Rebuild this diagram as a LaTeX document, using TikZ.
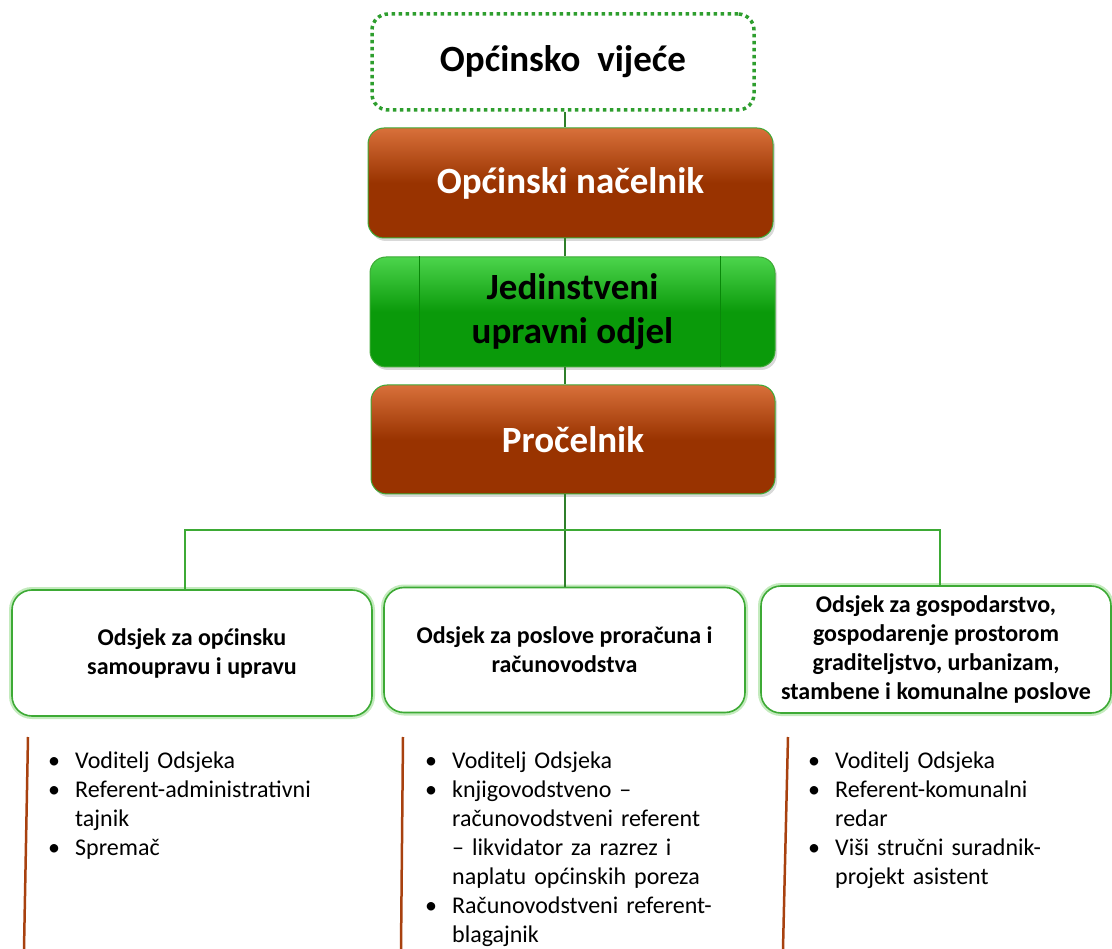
\documentclass[tikz,border=0pt]{standalone}
\usepackage{fontspec}
\setmainfont{Carlito}
\usetikzlibrary{positioning,shadows}
\definecolor{smeda}{HTML}{993300}
\definecolor{smedasvijetla}{HTML}{D8703A}
\definecolor{zelena}{HTML}{0A9A0A}
\definecolor{zelenasvijetla}{HTML}{4CD44C}
\definecolor{rub}{HTML}{3DAA35}
\definecolor{sjaj}{HTML}{C4EBBE}
\definecolor{deblo}{HTML}{2F7F2A}
\definecolor{tocke}{HTML}{2E9E2E}
\definecolor{linija}{HTML}{A8410F}
\newcommand{\stavka}[1]{\noindent\makebox[27pt][l]{\textbullet}#1\par}
\newcommand{\nastavak}[1]{\noindent\hspace*{27pt}#1\par}

\begin{document}
\begin{tikzpicture}[x=1pt,y=-1pt,
  vrh/.style={rounded corners=16pt,minimum width=405pt,minimum height=110pt,draw=rub,line width=1pt,
    font=\fontsize{37}{44}\selectfont\bfseries,align=center,
    drop shadow={opacity=.3,shadow xshift=2pt,shadow yshift=-3pt}},
  smedi/.style={vrh,top color=smedasvijetla,bottom color=smeda,middle color=smeda,text=white},
  zeleni/.style={vrh,top color=zelenasvijetla,bottom color=zelena,middle color=zelena,text=black},
  odsjek/.style={draw=rub,line width=1.6pt,rounded corners=20pt,fill=white,preaction={draw=sjaj,line width=6pt},
    font=\fontsize{24}{29}\selectfont\bfseries,align=center},
  popis/.style={text width=330pt,inner sep=0pt,anchor=base west,font=\fontsize{24}{29}\selectfont},
  deblo/.style={draw=deblo,line width=1.6pt},
  grana/.style={draw=rub,line width=1.1pt},
  crta/.style={draw=linija,line width=2.5pt}]
  \useasboundingbox (0,0) rectangle (1112,949);
  \node[draw=tocke,line width=3.5pt,dash pattern=on 3.5pt off 3.5pt,rounded corners=16pt,minimum width=382pt,minimum height=96pt,font=\fontsize{37}{44}\selectfont\bfseries] (vijece) at (563,62) {Općinsko\ \ vijeće};
  \node[smedi] (nacelnik) at (570.5,183) {Općinski načelnik};
  \node[zeleni] (jedinstveni) at (572.5,312) {Jedinstveni\\upravni odjel};
  \draw[zelena!88!black,line width=.4pt] ([xshift=50pt]jedinstveni.north west) -- ([xshift=50pt]jedinstveni.south west)
    ([xshift=-55pt]jedinstveni.north east) -- ([xshift=-55pt]jedinstveni.south east);
  \node[smedi,minimum width=404pt,minimum height=109pt] (procelnik) at (573,439.5) {Pročelnik};
  \node[odsjek,minimum width=360pt,minimum height=126pt] (odsjekA) at (192,653) {Odsjek za općinsku\\samoupravu i upravu};
  \node[odsjek,minimum width=361pt,minimum height=125pt] (odsjekB) at (564.5,650) {Odsjek za poslove proračuna i\\računovodstva};
  \node[odsjek,minimum width=350pt,minimum height=127pt] (odsjekC) at (936,649.5) {Odsjek za gospodarstvo,\\gospodarenje prostorom\\graditeljstvo, urbanizam,\\stambene i komunalne poslove};
  \coordinate (spoj) at (565,530);
  \draw[deblo] (vijece.south -| spoj) -- (nacelnik.north -| spoj) (nacelnik.south -| spoj) -- (jedinstveni.north -| spoj)
    (jedinstveni.south -| spoj) -- (procelnik.north -| spoj) (procelnik.south -| spoj) -- (spoj) -- (odsjekB.north -| spoj);
  \draw[grana] ([xshift=-7pt]odsjekA.north) |- (spoj) -| ([xshift=4pt]odsjekC.north);
  \draw[crta] (28,737) -- (24,949) (403,737) -- (401,949) (788,737) -- (783,949);
  \node[popis] (popisA) at (48,768) {\stavka{Voditelj Odsjeka}\stavka{Referent-administrativni}\nastavak{tajnik}\stavka{Spremač}};
  \node[popis] (popisB) at (425,768) {\stavka{Voditelj Odsjeka}\stavka{knjigovodstveno –}\nastavak{računovodstveni referent}\nastavak{– likvidator za razrez i}\nastavak{naplatu općinskih poreza}\stavka{Računovodstveni referent-}\nastavak{blagajnik}};
  \node[popis] (popisC) at (808,768) {\stavka{Voditelj Odsjeka}\stavka{Referent-komunalni}\nastavak{redar}\stavka{Viši stručni suradnik-}\nastavak{projekt asistent}};
\end{tikzpicture}
\end{document}
